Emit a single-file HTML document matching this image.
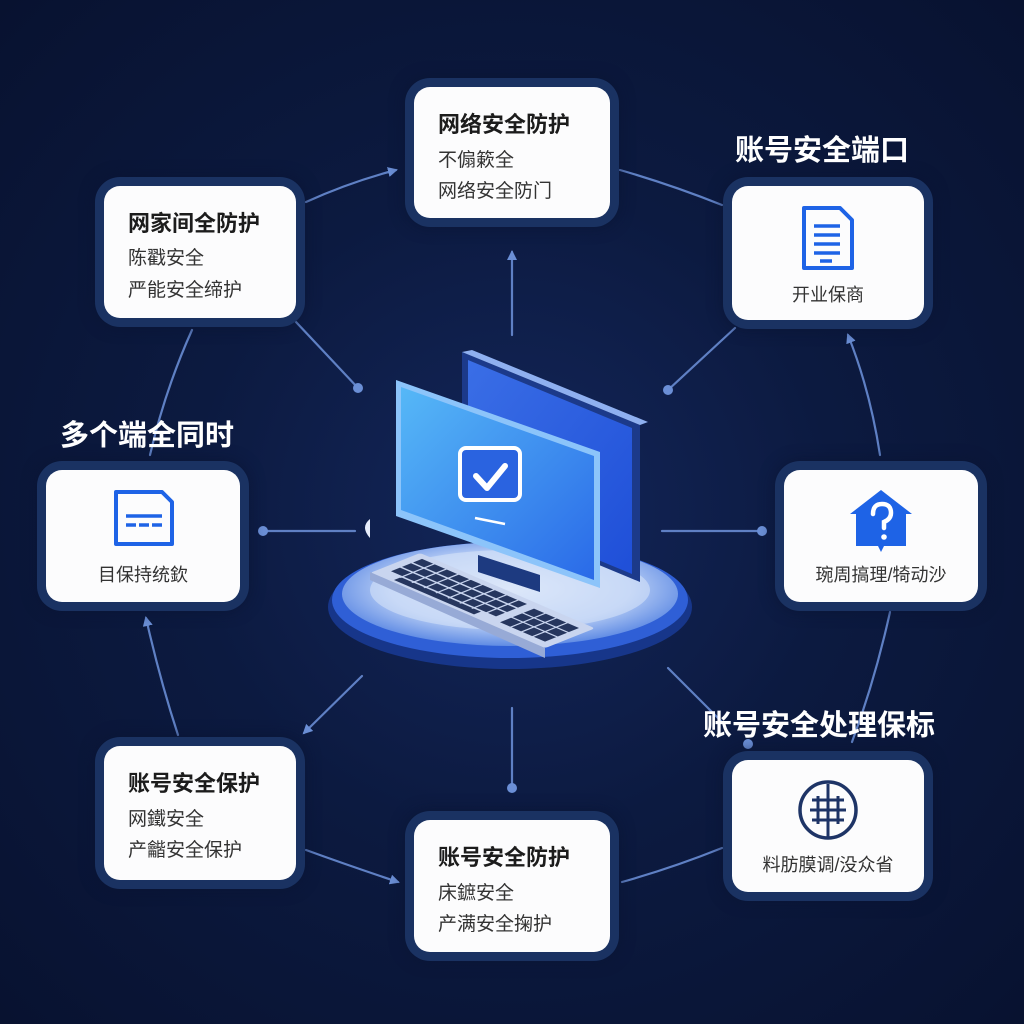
<!DOCTYPE html>
<html><head><meta charset="utf-8">
<style>
*{margin:0;padding:0;box-sizing:border-box}
body{width:1024px;height:1024px;overflow:hidden;background:#0a1535;font-family:"Liberation Sans","Noto Sans CJK SC",sans-serif;position:relative}
.bg{position:absolute;inset:0;background:radial-gradient(ellipse at 50% 50%,#13265a 0%,#0c1a40 45%,#081230 100%)}
.card{position:absolute;background:#fcfcfd;border-radius:16px;box-shadow:0 0 0 9px #1a3262,0 0 14px 10px rgba(10,20,50,.6);color:#222}
.t{font-size:22px;font-weight:bold;position:absolute;left:24px;color:#1c1c1c;white-space:nowrap}
.s{font-size:19px;position:absolute;left:24px;color:#333;white-space:nowrap}
.c{position:absolute;left:0;right:0;text-align:center;font-size:18px;color:#333}
.lab{position:absolute;color:#fff;font-size:29px;font-weight:bold;white-space:nowrap}
svg{position:absolute;left:0;top:0}
</style></head><body>
<div class="bg"></div>
<svg width="1024" height="1024" viewBox="0 0 1024 1024">
<defs>
<marker id="ar" markerWidth="10" markerHeight="10" refX="8" refY="5" orient="auto" markerUnits="userSpaceOnUse"><path d="M0,0 L10,5 L0,10 z" fill="#6b8fd6"/></marker>
<radialGradient id="plat" cx="50%" cy="45%" r="60%"><stop offset="0" stop-color="#e6eefc"/><stop offset="0.6" stop-color="#b3caf4"/><stop offset="1" stop-color="#4a7be0"/></radialGradient>
<linearGradient id="scr1" x1="0" y1="0" x2="1" y2="1"><stop offset="0" stop-color="#56b8f7"/><stop offset="1" stop-color="#2a6ae8"/></linearGradient>
<linearGradient id="scr2" x1="0" y1="0" x2="1" y2="1"><stop offset="0" stop-color="#3a6ee6"/><stop offset="1" stop-color="#1f4fd8"/></linearGradient>
</defs>
<g stroke="#5f80c4" stroke-width="2.2" fill="none" stroke-linecap="round">
<path d="M306,202 Q350,182 396,170" marker-end="url(#ar)"/>
<path d="M620,170 Q672,185 722,205"/>
<path d="M512,335 L512,252" marker-end="url(#ar)"/>
<path d="M296,322 L358,388"/>
<path d="M735,328 L668,390"/>
<path d="M880,455 Q870,390 848,335" marker-end="url(#ar)"/>
<path d="M192,330 Q165,390 150,455"/>
<path d="M263,531 L355,531"/>
<path d="M662,531 L762,531"/>
<path d="M178,735 Q160,680 146,618" marker-end="url(#ar)"/>
<path d="M362,676 L304,733" marker-end="url(#ar)"/>
<path d="M512,708 L512,788"/>
<path d="M306,850 Q350,866 398,882" marker-end="url(#ar)"/>
<path d="M622,882 Q672,868 722,848"/>
<path d="M890,612 Q875,680 852,742"/>
<path d="M668,668 L722,722"/>
</g>
<g fill="#6b8fd6">
<circle cx="358" cy="388" r="5"/><circle cx="668" cy="390" r="5"/>
<circle cx="263" cy="531" r="5"/><circle cx="762" cy="531" r="5"/>
<circle cx="512" cy="788" r="5"/><circle cx="748" cy="744" r="5"/>
</g>
<path d="M370,519 Q360,527 370,538 Z" fill="#e8eefc"/>
<!-- platform -->
<ellipse cx="510" cy="607" rx="182" ry="62" fill="#17368a"/>
<ellipse cx="510" cy="600" rx="178" ry="58" fill="#2f5fd6"/>
<ellipse cx="510" cy="594" rx="168" ry="52" fill="url(#plat)"/>
<ellipse cx="510" cy="590" rx="140" ry="40" fill="#d6e2f8" opacity=".6"/>
<!-- back monitor -->
<polygon points="462,352 640,425 640,582 462,508" fill="#1c3a8a"/>
<polygon points="468,360 632,428 632,574 468,506" fill="url(#scr2)"/>
<polygon points="462,352 472,350 648,422 640,425" fill="#8fb0f0"/>
<!-- stand -->
<polygon points="478,555 540,575 540,592 478,572" fill="#1d3a80"/>
<!-- front monitor -->
<polygon points="396,380 600,452 600,588 396,516" fill="#8cc4fa"/>
<polygon points="401,387 594,456 594,580 401,510" fill="url(#scr1)"/>
<rect x="460" y="448" width="60" height="52" rx="6" fill="#2a63e0" stroke="#fff" stroke-width="4"/>
<path d="M476,476 L487,488 L505,466" stroke="#fff" stroke-width="6" fill="none" stroke-linecap="round" stroke-linejoin="round"/>
<line x1="475" y1="518" x2="505" y2="524" stroke="#fff" stroke-width="2.5"/>
<!-- keyboard -->
<g transform="matrix(1,0.43,-1,0.4,420,553)">
<rect x="0" y="0" width="175" height="50" rx="3" fill="#c9d5ef"/>
<g fill="#26365e">
<rect x="8" y="6" width="105" height="9"/>
<rect x="8" y="17" width="105" height="9"/>
<rect x="8" y="28" width="105" height="9"/>
<rect x="20" y="39" width="80" height="7"/>
<rect x="122" y="8" width="45" height="34"/>
</g>
<g stroke="#c9d5ef" stroke-width="1.6">
<line x1="20" y1="4" x2="20" y2="40"/><line x1="32" y1="4" x2="32" y2="40"/><line x1="44" y1="4" x2="44" y2="40"/><line x1="56" y1="4" x2="56" y2="40"/><line x1="68" y1="4" x2="68" y2="40"/><line x1="80" y1="4" x2="80" y2="40"/><line x1="92" y1="4" x2="92" y2="40"/><line x1="104" y1="4" x2="104" y2="40"/>
<line x1="133" y1="6" x2="133" y2="44"/><line x1="144" y1="6" x2="144" y2="44"/><line x1="155" y1="6" x2="155" y2="44"/><line x1="120" y1="19" x2="170" y2="19"/><line x1="120" y1="30" x2="170" y2="30"/>
</g>
</g>
<polygon points="370,572 545,648 545,658 370,580" fill="#97aad6"/>
</svg>

<div class="card" style="left:414px;top:87px;width:196px;height:131px">
<div class="t" style="top:20px">网络安全防护</div>
<div class="s" style="top:58px">不傓簌全</div>
<div class="s" style="top:89px">网络安全防门</div></div>

<div class="card" style="left:104px;top:186px;width:192px;height:132px">
<div class="t" style="top:20px">网家间全防护</div>
<div class="s" style="top:57px">陈戳安全</div>
<div class="s" style="top:89px">严能安全缔护</div></div>

<div class="lab" style="left:735px;top:127px">账号安全端口</div>
<div class="card" style="left:732px;top:186px;width:192px;height:134px">
<svg width="192" height="134" style="left:0;top:0"><path d="M72,22 h36 l12,12 v48 h-48 z" fill="none" stroke="#1e63e6" stroke-width="4" stroke-linejoin="round"/><g stroke="#1e63e6" stroke-width="3.5"><line x1="82" y1="40" x2="108" y2="40"/><line x1="82" y1="49" x2="108" y2="49"/><line x1="82" y1="58" x2="108" y2="58"/><line x1="82" y1="67" x2="108" y2="67"/><line x1="88" y1="75" x2="100" y2="75"/></g></svg>
<div class="c" style="top:95px">开业保商</div></div>

<div class="lab" style="left:60px;top:412px">多个端全同时</div>
<div class="card" style="left:46px;top:470px;width:194px;height:132px">
<svg width="194" height="132" style="left:0;top:0"><path d="M70,22 h46 l10,10 v42 h-56 z" fill="none" stroke="#1e63e6" stroke-width="4" stroke-linejoin="round"/><g stroke="#1e63e6" stroke-width="3.5"><line x1="80" y1="46" x2="116" y2="46"/><line x1="80" y1="55" x2="90" y2="55"/><line x1="93" y1="55" x2="103" y2="55"/><line x1="106" y1="55" x2="116" y2="55"/></g></svg>
<div class="c" style="top:91px">目保持统欽</div></div>

<div class="card" style="left:784px;top:470px;width:194px;height:132px">
<svg width="194" height="132" style="left:0;top:0"><path d="M97,20 L128,44 L122,44 L122,76 L100,76 L97,82 L94,76 L72,76 L72,44 L66,44 Z" fill="#1e63e6"/><path d="M89,44 q0,-10 9,-10 q9,0 9,9 q0,6 -7,9 l0,6" stroke="#fff" stroke-width="4.5" fill="none" stroke-linecap="round"/><circle cx="100" cy="67" r="2.8" fill="#fff"/></svg>
<div class="c" style="top:91px">琬周搞理/犄动沙</div></div>

<div class="card" style="left:104px;top:746px;width:192px;height:134px">
<div class="t" style="top:20px">账号安全保护</div>
<div class="s" style="top:58px">网鐵安全</div>
<div class="s" style="top:89px">产龤安全保护</div></div>

<div class="card" style="left:414px;top:820px;width:196px;height:132px">
<div class="t" style="top:20px">账号安全防护</div>
<div class="s" style="top:58px">床鏣安全</div>
<div class="s" style="top:89px">产满安全掬护</div></div>

<div class="lab" style="left:703px;top:702px">账号安全处理保标</div>
<div class="card" style="left:732px;top:760px;width:192px;height:132px">
<svg width="192" height="132" style="left:0;top:0"><circle cx="96" cy="50" r="28" fill="none" stroke="#1e3466" stroke-width="3.5"/><g stroke="#1e3466" stroke-width="3" fill="none"><path d="M96,24 V78"/><path d="M80,40 H112 M78,50 H114 M80,60 H112"/><path d="M86,36 V64 M106,36 V64"/></g></svg>
<div class="c" style="top:91px">料肪膜调/没众省</div></div>
</body></html>
